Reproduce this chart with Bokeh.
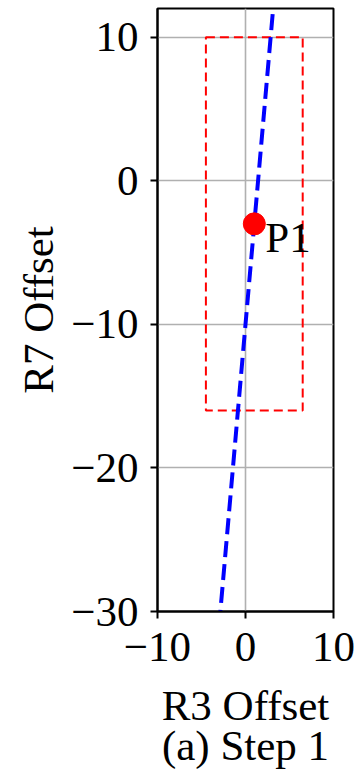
from bokeh.plotting import figure
from bokeh.models import Range1d, FixedTicker
from bokeh.core.properties import value
from bokeh.embed import file_html
from bokeh.resources import INLINE

# Data
x_ticks = [-10, 0, 10]
x_tick_labels = ["−10", "0", "10"]
y_ticks = [-30, -20, -10, 0, 10]
y_tick_labels = ["−30", "−20", "−10", "0", "10"]
line_x = [-3.0, 3.3]
line_y = [-31.0, 13.1]
region_left = [-4.5]
region_right = [6.5]
region_bottom = [-16.0]
region_top = [10.0]
point_x = [1.0]
point_y = [-3.0]
point_label = ["P1"]
x_title = "R3 Offset"
y_title = "R7 Offset"
caption = "(a) Step 1"

FONT = "Liberation Serif"
FS = "43px"

p = figure(width=357, height=771, output_backend="svg", toolbar_location=None,
           x_range=Range1d(-10, 10), y_range=Range1d(-30, 12),
           min_border_left=157, min_border_right=24, min_border_top=8, min_border_bottom=160)
p.background_fill_color = "white"
p.border_fill_color = "white"
p.outline_line_color = "black"
p.outline_line_width = 2

for ax, ticks, labels in ((p.xaxis, x_ticks, x_tick_labels), (p.yaxis, y_ticks, y_tick_labels)):
    ax.ticker = FixedTicker(ticks=ticks)
    ax.major_label_overrides = dict(zip(ticks, labels))
    ax.minor_tick_line_color = None
    ax.major_tick_out = 7
    ax.major_tick_in = 0
    ax.major_tick_line_width = 2
    ax.axis_line_width = 2
    ax.axis_line_color = "black"
    ax.major_label_text_font = FONT
    ax.major_label_text_font_size = FS
    ax.major_label_text_color = "black"
    ax.axis_label_text_font = FONT
    ax.axis_label_text_font_size = FS
    ax.axis_label_text_font_style = "normal"
    ax.axis_label_text_color = "black"

p.xaxis.axis_label = x_title + "\n" + caption
p.xaxis.axis_label_text_line_height = 0.86
p.yaxis.axis_label = y_title
p.xaxis.major_label_standoff = 14
p.xaxis.axis_label_standoff = 18
p.yaxis.major_label_standoff = 12
p.yaxis.axis_label_standoff = 6

p.grid.grid_line_color = "#b0b0b0"
p.grid.grid_line_width = 1.6
p.xgrid.ticker = FixedTicker(ticks=x_ticks)
p.ygrid.ticker = FixedTicker(ticks=y_ticks)

p.quad(left=region_left, right=region_right, bottom=region_bottom, top=region_top,
       fill_alpha=0, line_color="red", line_width=2, line_dash="9 5")
p.line(line_x, line_y, line_color="blue", line_width=4, line_dash="16 7")
p.scatter(point_x, point_y, size=22, color="red", line_color="red")
p.text(point_x, point_y, text=point_label, x_offset=11, y_offset=-10,
       text_font=value(FONT), text_font_size=FS, text_baseline="top", text_color="black")

open("out.html", "w").write(file_html(p, INLINE))
